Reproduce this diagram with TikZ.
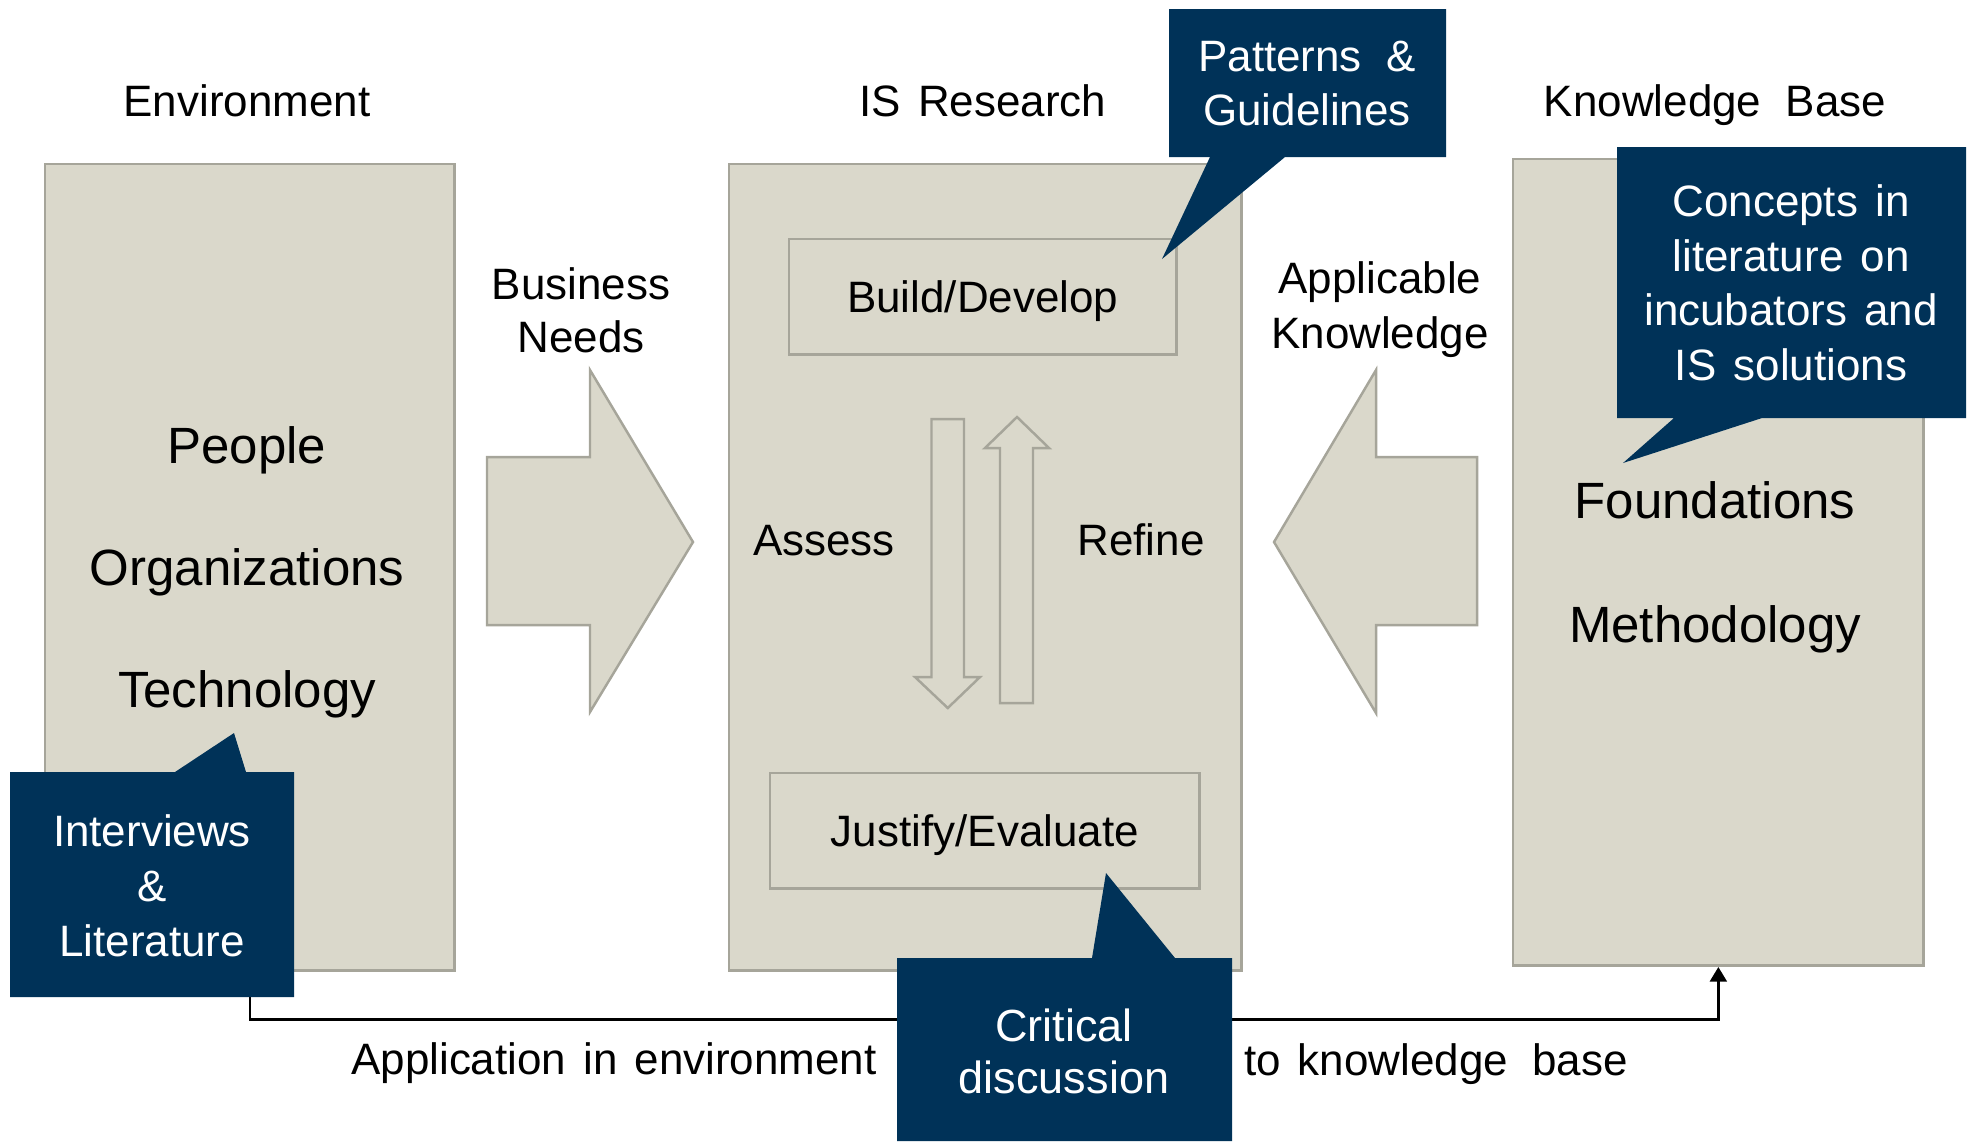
\documentclass[tikz,border=0pt]{standalone}
\usepackage{fontspec}
\setmainfont{Liberation Sans}
\usetikzlibrary{arrows.meta}
\definecolor{boxfill}{HTML}{DAD8CB}
\definecolor{boxline}{HTML}{A6A59A}
\definecolor{navy}{HTML}{003258}
\newcommand\wsp{\hspace{0.39em}}
\begin{document}
\begin{tikzpicture}[x=0.01cm,y=-0.01cm,
  panel/.style={fill=boxfill,draw=boxline,line width=0.7pt,inner sep=0pt,anchor=north west},
  txt/.style={font=\fontsize{12.5}{15.3}\selectfont,inner sep=0pt,anchor=base,align=center},
  bigtxt/.style={font=\fontsize{14.5}{17}\selectfont,inner sep=0pt,anchor=base},
  wtxt/.style={txt,text=white},
  inbox/.style={panel,anchor=north west,font=\fontsize{12.5}{15.3}\selectfont,text height=9pt,text depth=0pt},
  blockarrow/.style={fill=boxfill,draw=boxline,line width=0.7pt,line join=miter},
  bubble/.style={fill=navy},
  flow/.style={draw=black,line width=0.85pt,-{Triangle[length=4.2pt,width=4.8pt]}}
]
\useasboundingbox (0,0) rectangle (1967,1141);

% main panels
\node[panel,minimum width=4.09cm,minimum height=8.06cm] (env) at (44,163) {};
\node[panel,minimum width=5.12cm,minimum height=8.06cm] (isr) at (728,163) {};
\node[panel,minimum width=4.10cm,minimum height=8.06cm] (kb) at (1512,158) {};

% inner boxes
\node[inbox,minimum width=3.87cm,minimum height=1.15cm] (build) at (788,238) {Build/Develop};
\node[inbox,minimum width=4.29cm,minimum height=1.15cm] (justify) at (769,772) {Justify/Evaluate};

% block arrows
\draw[blockarrow] (487,457) -- (590,457) -- (590,370) -- (693,542) -- (590,712) -- (590,625) -- (487,625) -- cycle;
\draw[blockarrow] (1477,457) -- (1376,457) -- (1376,370) -- (1274,542) -- (1376,713) -- (1376,625) -- (1477,625) -- cycle;

% hollow arrows (assess / refine)
\draw[blockarrow] (931.5,419) -- (964,419) -- (964,677) -- (980,677) -- (947.75,708) -- (915,677) -- (931.5,677) -- cycle;
\draw[blockarrow] (1000,703) -- (1033,703) -- (1033,448) -- (1049,448) -- (1017,417) -- (985,448) -- (1000,448) -- cycle;

% feedback connector
\coordinate (intvout) at (250,997);
\draw[flow] (intvout) -- ++(0,22) -| (kb.south);

% callouts
\fill[bubble] (1169,9) -- (1446,9) -- (1446,157) -- (1285,157) -- (1162,259) -- (1210,157) -- (1169,157) -- cycle;
\fill[bubble] (10,772) -- (175,772) -- (234,733) -- (246,772) -- (294,772) -- (294,997) -- (10,997) -- cycle;
\fill[bubble] (1617,147) -- (1966,147) -- (1966,418) -- (1762,418) -- (1623,463) -- (1674,418) -- (1617,418) -- cycle;
\fill[bubble] (897,958) -- (1092,958) -- (1106,873) -- (1175,958) -- (1232,958) -- (1232,1141) -- (897,1141) -- cycle;

% headings
\node[txt] (henv) at (247,116) {Environment};
\node[txt] (hisr) at (983,116) {IS\wsp Research};
\node[txt] (hkb) at (1715,116) {Knowledge\wsp\,Base};

% arrow labels (anchor base = last line)
\node[txt,font=\fontsize{12.5}{14.8}\selectfont] (bneeds) at (581,352) {Business\\Needs};
\node[txt,font=\fontsize{12.5}{15.6}\selectfont] (appk) at (1380,348) {Applicable\\Knowledge};
\node[txt] (assess) at (824,555) {Assess};
\node[txt] (refine) at (1141,555) {Refine};

% panel contents
\node[bigtxt] (people) at (247,463) {People};
\node[bigtxt] (orgs) at (247,585) {Organizations};
\node[bigtxt] (tech) at (247,707) {Technology};
\node[bigtxt] (found) at (1715,518) {Foundations};
\node[bigtxt] (meth) at (1715,642) {Methodology};

% callout texts (anchor base = last line)
\node[wtxt] (pat) at (1307,125) {Patterns\wsp\,\&\\Guidelines};
\node[wtxt,font=\fontsize{12.5}{15.5}\selectfont] (conc) at (1791,380) {Concepts\wsp in\\literature\wsp on\\incubators\wsp and\\IS\wsp solutions};
\node[wtxt,font=\fontsize{12.5}{15.6}\selectfont] (intv) at (152,956) {Interviews\\\&\\Literature};
\node[wtxt,font=\fontsize{12.8}{14.6}\selectfont] (crit) at (1064,1093) {Critical\\discussion};

% bottom labels
\node[txt] (appenv) at (614,1074) {Application\wsp in\wsp environment};
\node[txt] (tokb) at (1436,1075) {to\wsp knowledge\wsp\,base};
\end{tikzpicture}
\end{document}
